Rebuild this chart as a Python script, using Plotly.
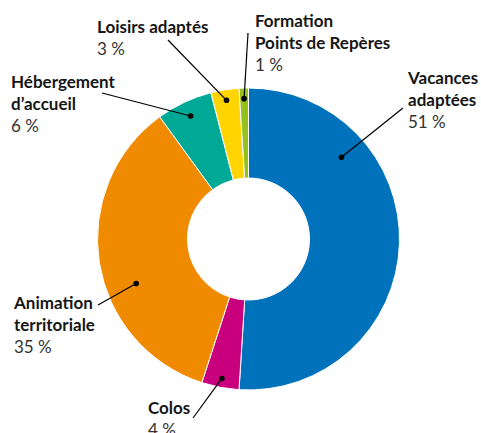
import numpy as np
import plotly.graph_objects as go

labels = ["Vacances adaptées", "Colos", "Animation territoriale",
          "Hébergement d'accueil", "Loisirs adaptés", "Formation Points de Repères"]
values = [51, 4, 35, 6, 3, 1]
colors = ["#0072BC", "#C8007E", "#F08A00", "#00A896", "#FFD400", "#95C11F"]

# label text (bold part split in lines)
label_lines = [["Vacances", "adaptées"], ["Colos"], ["Animation", "territoriale"],
               ["Hébergement", "d’accueil"], ["Loisirs adaptés"], ["Formation", "Points de Repères"]]

W, H = 481, 433
cx, cy, R = 248.5, 239, 151

# leader placement: position inside slice (0..1), radius fraction, line end, text box (left, middle y)
leaders = [
    dict(frac=0.265, rf=0.82, end=(403, 108), text=(405, 99)),
    dict(frac=0.5, rf=0.94, end=(193, 418), text=(146, 418)),
    dict(frac=0.40, rf=0.80, end=(98, 305), text=(11, 324)),
    dict(frac=0.5, rf=0.90, end=(102, 93), text=(9, 103)),
    dict(frac=0.5, rf=0.93, end=(168, 40), text=(95, 37)),
    dict(frac=0.5, rf=0.93, end=(248, 33), text=(253, 42)),
]

fig = go.Figure()

fig.add_trace(go.Pie(
    labels=labels, values=values, sort=False, direction="clockwise", rotation=0,
    hole=0.404, marker=dict(colors=colors, line=dict(color="white", width=1)),
    textinfo="none", showlegend=False,
    domain=dict(x=[(cx - R) / W, (cx + R) / W], y=[(H - cy - R) / H, (H - cy + R) / H]),
))

total = sum(values)
cum = np.cumsum([0] + values)
for i, lead in enumerate(leaders):
    a0 = cum[i] / total * 360
    a1 = cum[i + 1] / total * 360
    ang = np.radians(a0 + (a1 - a0) * lead["frac"])
    dx = cx + R * lead["rf"] * np.sin(ang)
    dy = cy - R * lead["rf"] * np.cos(ang)
    ex, ey = lead["end"]
    fig.add_shape(type="line", xref="x", yref="y", x0=dx, y0=dy, x1=ex, y1=ey,
                  line=dict(color="black", width=1.2), layer="above")
    fig.add_shape(type="circle", xref="x", yref="y", x0=dx - 2.8, x1=dx + 2.8,
                  y0=dy - 2.8, y1=dy + 2.8, fillcolor="black", line=dict(width=0), layer="above")
    txt = "<br>".join(f"<b>{l}</b>" for l in label_lines[i])
    txt += f"<br><span style='color:#333333'>{values[i]} %</span>"
    tx, ty = lead["text"]
    fig.add_annotation(x=tx, y=ty, xref="x", yref="y", text=txt, showarrow=False,
                       xanchor="left", yanchor="middle", align="left",
                       font=dict(family="Lato", size=17, color="#161616"))

fig.update_layout(
    width=W, height=H, margin=dict(l=0, r=0, t=0, b=0),
    paper_bgcolor="white", plot_bgcolor="rgba(0,0,0,0)",
    xaxis=dict(range=[0, W], visible=False, fixedrange=True),
    yaxis=dict(range=[H, 0], visible=False, fixedrange=True),
)
fig.write_html("out.html", config={"displayModeBar": False},
               post_script="document.body.style.margin='0';")
